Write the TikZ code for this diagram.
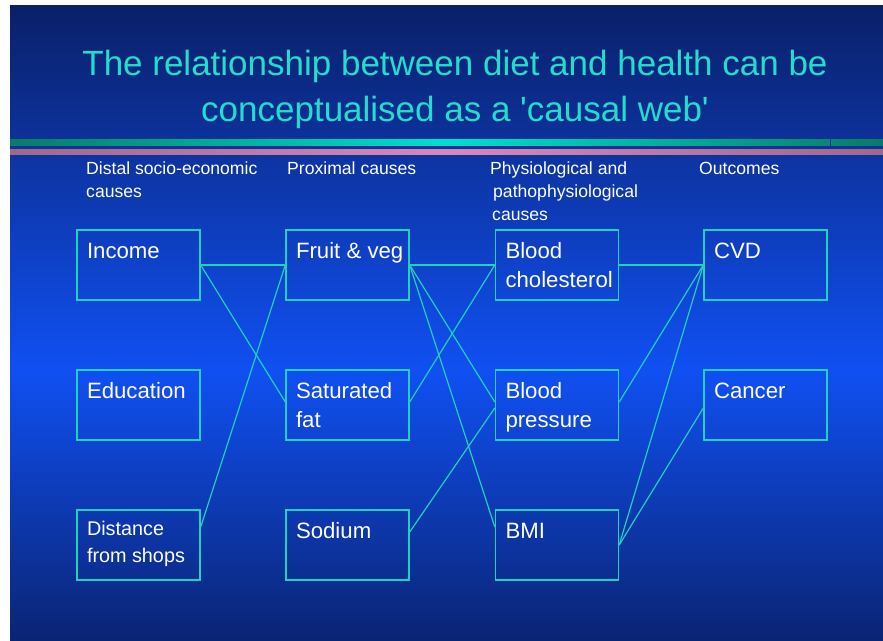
\documentclass[tikz,border=0pt]{standalone}
\usepackage{fontspec}
\setmainfont{Liberation Sans}
% same face without the TeX quote mapping, so ' stays a straight quote
\newfontfamily\headingfont{Liberation Sans}
\definecolor{bgtop}{RGB}{10,32,104}
\definecolor{bgmid}{RGB}{16,80,242}
\definecolor{bgbot}{RGB}{10,36,116}
\definecolor{lineteal}{RGB}{30,210,190}
\definecolor{titleteal}{RGB}{35,220,205}
\definecolor{stripedark}{RGB}{10,122,104}
\definecolor{stripelight}{RGB}{0,224,208}
\definecolor{pinkdark}{RGB}{160,104,136}
\definecolor{pinklight}{RGB}{216,136,184}
\newcommand{\boxtxt}[1]{\parbox[c][54pt][t]{103pt}{\raggedright\strut#1}}
\begin{document}
\begin{tikzpicture}[x=1pt,y=-1pt,
  cause/.style={draw=lineteal, line width=1.4pt, inner xsep=10pt, inner ysep=8pt,
    font=\fontsize{22.2}{29}\selectfont, text=white},
  smallcause/.style={cause, font=\fontsize{19.8}{25}\selectfont},
  header/.style={anchor=base west, inner sep=0pt, align=left, text=white,
    font=\fontsize{17.6}{23}\selectfont},
  heading/.style={anchor=base, inner sep=0pt, text=titleteal,
    font=\headingfont\fontsize{35}{45}\selectfont},
  link/.style={draw=lineteal, line width=1.2pt}]
\useasboundingbox (0,0) rectangle (883,640);
\fill[white] (0,0) rectangle (883,640);
% slide background
\shade[top color=bgtop, bottom color=bgmid] (10,5) rectangle (883,371);
\shade[top color=bgmid, bottom color=bgbot] (10,370) rectangle (883,640);
% ruled stripes under the heading
\shade[left color=stripedark, right color=stripedark, middle color=stripelight] (10,139) rectangle (883,145.7);
\shade[left color=pinkdark, right color=pinkdark, middle color=pinklight] (10,149) rectangle (883,154);
\fill[bgtop!60!bgmid] (829.5,139) rectangle (830.5,145.7);

% heading
\node[heading] (title1) at (455,75) {The relationship between diet and health can be};
\node[heading] (title2) at (455,121) {conceptualised as a 'causal web'};

% column headers (base anchor sits on the last line)
\node[header] (h1) at (86,197) {Distal socio-economic\\causes};
\node[header] (h2) at (287,174) {Proximal causes};
\node[header] (h3) at (490,220) {Physiological and\\\hspace*{3pt}pathophysiological\\\hspace*{2pt}causes};
\node[header] (h4) at (699,174) {Outcomes};

% boxes
\node[cause] (inc)  at (138.5,265) {\boxtxt{Income}};
\node[cause] (edu)  at (138.5,405) {\boxtxt{Education}};
\node[smallcause] (dist) at (138.5,545) {\boxtxt{\vspace*{1.5pt}Distance\\from shops}};
\node[cause] (fv)   at (347.5,265) {\boxtxt{\mbox{Fruit \& veg}}};
\node[cause] (sat)  at (347.5,405) {\boxtxt{Saturated\\fat}};
\node[cause] (sod)  at (347.5,545) {\boxtxt{Sodium}};
\node[cause] (chol) at (557,265)   {\boxtxt{Blood\\cholesterol}};
\node[cause] (bp)   at (557,405)   {\boxtxt{Blood\\pressure}};
\node[cause] (bmi)  at (557,545)   {\boxtxt{BMI}};
\node[cause] (cvd)  at (765.5,265) {\boxtxt{CVD}};
\node[cause] (canc) at (765.5,405) {\boxtxt{Cancer}};

% causal links
\draw[link] (inc.east) -- (fv.west);
\draw[link] (inc.east) -- ([yshift=3pt]sat.west);
\draw[link] ([yshift=18pt]dist.east) -- (fv.west);
\draw[link] (fv.east) -- (chol.west);
\draw[link] ([yshift=3pt]sat.east) -- (chol.west);
\draw[link] (fv.east) -- ([yshift=3pt]bp.west);
\draw[link] (fv.east) -- ([yshift=18pt]bmi.west);
\draw[link] ([yshift=13pt]sod.east) -- ([yshift=-3pt]bp.west);
\draw[link] (chol.east) -- (cvd.west);
\draw[link] ([yshift=3pt]bp.east) -- (cvd.west);
\draw[link] (bmi.east) -- (cvd.west);
\draw[link] (bmi.east) -- ([yshift=-3pt]canc.west);
\end{tikzpicture}
\end{document}
